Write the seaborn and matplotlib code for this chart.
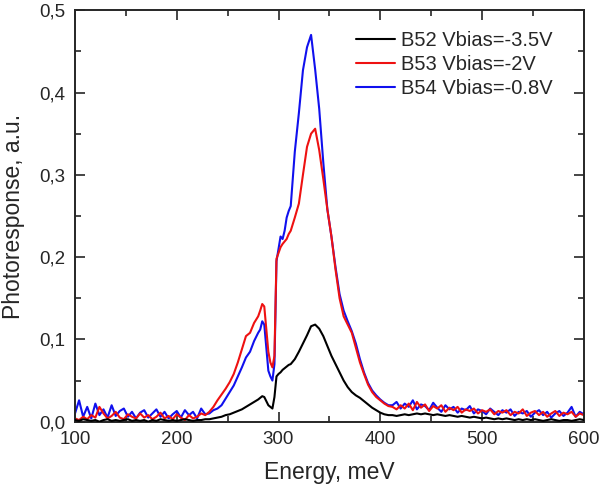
import numpy as np
import pandas as pd
import matplotlib
matplotlib.use("Agg")
import matplotlib.pyplot as plt
import seaborn as sns
from matplotlib.ticker import MultipleLocator, FuncFormatter

# energy grid (meV): coarse baseline, finer around the 290 meV step
energy = np.concatenate([np.arange(100, 280, 4), np.arange(280, 312, 2), np.arange(312, 601, 4)])

# B52 Vbias=-3.5V
b52 = [0.002, 0.001, 0.003, 0.002, 0.001, 0.002, 0.000, 0.002, 0.003, 0.001, 0.002,
       0.001, 0.002, 0.003, 0.001, 0.002, 0.001, 0.002, 0.000, 0.002, 0.001, 0.003,
       0.002, 0.001, 0.002, 0.001, 0.002, 0.003, 0.002, 0.001, 0.002, 0.002, 0.003,
       0.003, 0.004, 0.005, 0.006, 0.008, 0.009, 0.011, 0.013, 0.015, 0.018, 0.021, 0.024,
       0.027, 0.029, 0.031, 0.030, 0.025, 0.020, 0.018, 0.016, 0.030, 0.055, 0.058, 0.060,
       0.063, 0.065, 0.067, 0.069,
       0.070, 0.076, 0.085, 0.095, 0.105, 0.116, 0.118, 0.113, 0.104, 0.092, 0.080, 0.070,
       0.060, 0.050, 0.042, 0.036, 0.032, 0.029, 0.025, 0.021, 0.017, 0.014, 0.011, 0.009, 0.008,
       0.008, 0.007, 0.008, 0.009, 0.008, 0.009, 0.010, 0.009, 0.010, 0.009, 0.008, 0.009,
       0.008, 0.007, 0.008, 0.007, 0.006, 0.007, 0.006, 0.005, 0.006, 0.005, 0.004, 0.005,
       0.004, 0.003, 0.004, 0.003, 0.004, 0.003, 0.002, 0.003, 0.002, 0.003, 0.002, 0.003,
       0.002, 0.001, 0.002, 0.003, 0.002, 0.001, 0.002, 0.002, 0.001, 0.002, 0.003, 0.002]

# B53 Vbias=-2V
b53 = [0.004, 0.002, 0.006, 0.003, 0.008, 0.005, 0.018, 0.010, 0.004, 0.007, 0.012,
       0.005, 0.003, 0.009, 0.006, 0.004, 0.010, 0.005, 0.008, 0.003, 0.006, 0.011,
       0.004, 0.007, 0.003, 0.009, 0.005, 0.002, 0.008, 0.004, 0.006, 0.010, 0.008,
       0.012, 0.018, 0.026, 0.033, 0.040, 0.048, 0.058, 0.072, 0.088, 0.104, 0.108, 0.120,
       0.128, 0.135, 0.143, 0.140, 0.112, 0.085, 0.072, 0.066, 0.080, 0.198, 0.205, 0.212,
       0.216, 0.219, 0.222, 0.228,
       0.232, 0.248, 0.265, 0.300, 0.334, 0.350, 0.356, 0.330, 0.295, 0.258, 0.225, 0.185,
       0.150, 0.128, 0.118, 0.108, 0.090, 0.072, 0.058, 0.045, 0.036, 0.030, 0.026, 0.022, 0.019,
       0.018, 0.015, 0.020, 0.016, 0.022, 0.014, 0.024, 0.017, 0.021, 0.013, 0.019, 0.016,
       0.020, 0.012, 0.017, 0.014, 0.018, 0.011, 0.015, 0.013, 0.016, 0.010, 0.014, 0.012,
       0.015, 0.009, 0.013, 0.011, 0.014, 0.008, 0.012, 0.010, 0.015, 0.007, 0.011, 0.013,
       0.008, 0.012, 0.006, 0.010, 0.013, 0.007, 0.011, 0.009, 0.012, 0.006, 0.010, 0.008]

# B54 Vbias=-0.8V
b54 = [0.010, 0.026, 0.006, 0.018, 0.004, 0.022, 0.008, 0.015, 0.005, 0.020, 0.007,
       0.013, 0.016, 0.006, 0.012, 0.004, 0.011, 0.014, 0.005, 0.010, 0.015, 0.006,
       0.012, 0.004, 0.009, 0.013, 0.005, 0.014, 0.008, 0.012, 0.004, 0.016, 0.009,
       0.010, 0.014, 0.016, 0.020, 0.028, 0.036, 0.044, 0.055, 0.066, 0.078, 0.085, 0.098,
       0.108, 0.112, 0.122, 0.118, 0.090, 0.062, 0.055, 0.050, 0.070, 0.195, 0.210, 0.225,
       0.222, 0.232, 0.248, 0.256,
       0.262, 0.328, 0.375, 0.427, 0.455, 0.470, 0.428, 0.380, 0.315, 0.258, 0.225, 0.188,
       0.155, 0.135, 0.122, 0.110, 0.095, 0.076, 0.060, 0.047, 0.038, 0.032, 0.027, 0.023, 0.020,
       0.020, 0.024, 0.016, 0.022, 0.018, 0.026, 0.015, 0.021, 0.019, 0.014, 0.023, 0.017,
       0.012, 0.020, 0.015, 0.018, 0.011, 0.016, 0.014, 0.019, 0.010, 0.015, 0.013, 0.009,
       0.016, 0.012, 0.008, 0.014, 0.011, 0.015, 0.007, 0.012, 0.010, 0.013, 0.006, 0.011,
       0.014, 0.008, 0.012, 0.005, 0.010, 0.013, 0.007, 0.011, 0.018, 0.006, 0.012, 0.009]

labels = ['B52 Vbias=-3.5V', 'B53 Vbias=-2V', 'B54 Vbias=-0.8V']
colors = ['#000000', '#ee1111', '#1010ee']

df = pd.DataFrame({'Energy': energy, labels[0]: b52, labels[1]: b53, labels[2]: b54})

sns.set_style("ticks")
plt.rcParams['font.family'] = ['Liberation Sans', 'DejaVu Sans']

fig = plt.figure(figsize=(6, 4.86), dpi=100)
ax = fig.add_axes([0.125, 0.1323, 0.848, 0.8467])

# blue under red under black, legend keeps black/red/blue order
for lab, col, z in zip(labels[::-1], colors[::-1], [1, 2, 3]):
    sns.lineplot(data=df, x='Energy', y=lab, color=col, linewidth=1.5, label=lab, ax=ax, zorder=z)

ax.set_xlim(100, 600)
ax.set_ylim(0, 0.5)
ax.xaxis.set_major_locator(MultipleLocator(100))
ax.xaxis.set_minor_locator(MultipleLocator(50))
ax.yaxis.set_major_locator(MultipleLocator(0.1))
ax.yaxis.set_minor_locator(MultipleLocator(0.05))
ax.yaxis.set_major_formatter(FuncFormatter(lambda v, p: f"{v:.1f}".replace('.', ',')))
ax.xaxis.set_major_formatter(FuncFormatter(lambda v, p: f"{v:.0f}"))
ax.tick_params(which='both', direction='in', top=True, right=True, width=1.2, labelsize=13.5, pad=7)
ax.tick_params(which='major', length=7)
ax.tick_params(which='minor', length=4)
for s in ax.spines.values():
    s.set_linewidth(1.4)

ax.set_xlabel('Energy, meV', fontsize=16.5, labelpad=9)
ax.set_ylabel('Photoresponse, a.u.', fontsize=16.5, labelpad=10)

h, l = ax.get_legend_handles_labels()
order = [l.index(x) for x in labels]
ax.legend([h[i] for i in order], labels, loc='upper left', bbox_to_anchor=(0.553, 0.95),
          frameon=False, fontsize=14.5, handlelength=1.9, handletextpad=0.3,
          labelspacing=0.25, borderpad=0, borderaxespad=0)

plt.savefig('out.png', dpi=100)
plt.close()
